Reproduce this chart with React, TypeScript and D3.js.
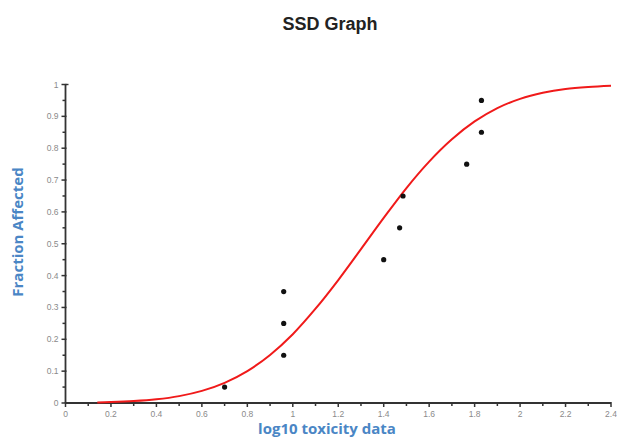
import React from "react";
import * as d3 from "d3";

const pointX = [0.7, 0.96, 0.96, 0.96, 1.4, 1.47, 1.485, 1.765, 1.83, 1.83];
const pointY = [0.05, 0.35, 0.25, 0.15, 0.45, 0.55, 0.65, 0.75, 0.85, 0.95];

const curveX = [0.14, 0.2, 0.3, 0.4, 0.5, 0.6, 0.7, 0.8, 0.9, 1.0, 1.1, 1.2, 1.3, 1.4, 1.5, 1.6, 1.7, 1.8, 1.9, 2.0, 2.1, 2.2, 2.3, 2.4];
const curveY = [0.0018, 0.0028, 0.0059, 0.0116, 0.0216, 0.038, 0.0634, 0.1003, 0.151, 0.216, 0.296, 0.386, 0.483, 0.581, 0.675, 0.758, 0.828, 0.884, 0.926, 0.955, 0.974, 0.986, 0.9925, 0.9963];

const xTicks = [0, 0.2, 0.4, 0.6, 0.8, 1, 1.2, 1.4, 1.6, 1.8, 2, 2.2, 2.4];
const xMinor = [0.1, 0.3, 0.5, 0.7, 0.9, 1.1, 1.3, 1.5, 1.7, 1.9, 2.1, 2.3];
const yTicks = [0, 0.1, 0.2, 0.3, 0.4, 0.5, 0.6, 0.7, 0.8, 0.9, 1];
const yMinor = [0.05, 0.15, 0.25, 0.35, 0.45, 0.55, 0.65, 0.75, 0.85, 0.95];

const title = "SSD Graph";
const xLabel = "log10 toxicity data";
const yLabel = "Fraction Affected";

export default function App() {
  const W = 617, H = 440;
  const x = d3.scaleLinear().domain([0, 2.4]).range([65.5, 611]);
  const y = d3.scaleLinear().domain([0, 1]).range([403, 84.5]);
  const line = d3
    .line<number>()
    .x((_, i) => x(curveX[i]))
    .y((d) => y(d))
    .curve(d3.curveCatmullRom.alpha(0.5));
  const axisColor = "#333";
  const tickText = "#8a8a8a";
  const blue = "#4a86c5";
  const fmt = (v: number) => (v === 0 ? "0" : String(+v.toFixed(1)));
  return (
    <div style={{ position: "absolute", left: 0, top: 0 }}>
      <svg width={W} height={H} style={{ display: "block", background: "#fff" }}>
        <text x={330} y={30} textAnchor="middle" fontFamily="Liberation Sans, Arial, sans-serif" fontWeight="bold" fontSize={18} fill="#222">
          {title}
        </text>
        {/* axes */}
        <line x1={x(0)} x2={x(0)} y1={y(0)} y2={y(1)} stroke={axisColor} strokeWidth={1.8} />
        <line x1={x(0)} x2={x(0) + 3} y1={y(1)} y2={y(1)} stroke={axisColor} strokeWidth={1.4} />
        <line x1={x(0)} x2={x(2.4)} y1={y(0)} y2={y(0)} stroke={axisColor} strokeWidth={1.8} />
        {xTicks.map((t) => (
          <g key={"xt" + t}>
            <line x1={x(t)} x2={x(t)} y1={y(0) - 1} y2={y(0) + 4} stroke={axisColor} strokeWidth={1.5} />
            <text x={x(t)} y={y(0) + 14} textAnchor="middle" fontFamily="Liberation Sans, Arial, sans-serif" fontSize={8.5} fill={tickText}>
              {fmt(t)}
            </text>
          </g>
        ))}
        {xMinor.map((t) => (
          <line key={"xm" + t} x1={x(t)} x2={x(t)} y1={y(0)} y2={y(0) + 3} stroke={axisColor} strokeWidth={1.5} />
        ))}
        {yTicks.map((t) => (
          <g key={"yt" + t}>
            <line x1={x(0) - 4} x2={x(0) + 1} y1={y(t)} y2={y(t)} stroke={axisColor} strokeWidth={1.5} />
            <text x={x(0) - 7} y={y(t) + 3} textAnchor="end" fontFamily="Liberation Sans, Arial, sans-serif" fontSize={8.5} fill={tickText}>
              {fmt(t)}
            </text>
          </g>
        ))}
        {yMinor.map((t) => (
          <line key={"ym" + t} x1={x(0) - 3} x2={x(0)} y1={y(t)} y2={y(t)} stroke={axisColor} strokeWidth={1.5} />
        ))}
        {/* curve */}
        <path d={line(curveY) || ""} fill="none" stroke="#f01a1a" strokeWidth={2} />
        {/* points */}
        {pointX.map((px, i) => (
          <circle key={"p" + i} cx={x(px)} cy={y(pointY[i])} r={2.6} fill="#111" />
        ))}
        {/* axis labels */}
        <text x={327} y={434} textAnchor="middle" fontFamily="Open Sans, sans-serif" fontWeight="bold" fontSize={15} fill={blue}>
          {xLabel}
        </text>
        <text
          transform={`translate(23, ${232}) rotate(-90)`}
          textAnchor="middle"
          fontFamily="Open Sans, sans-serif"
          fontWeight="bold"
          fontSize={15}
          fill={blue}
        >
          {yLabel}
        </text>
      </svg>
    </div>
  );
}
